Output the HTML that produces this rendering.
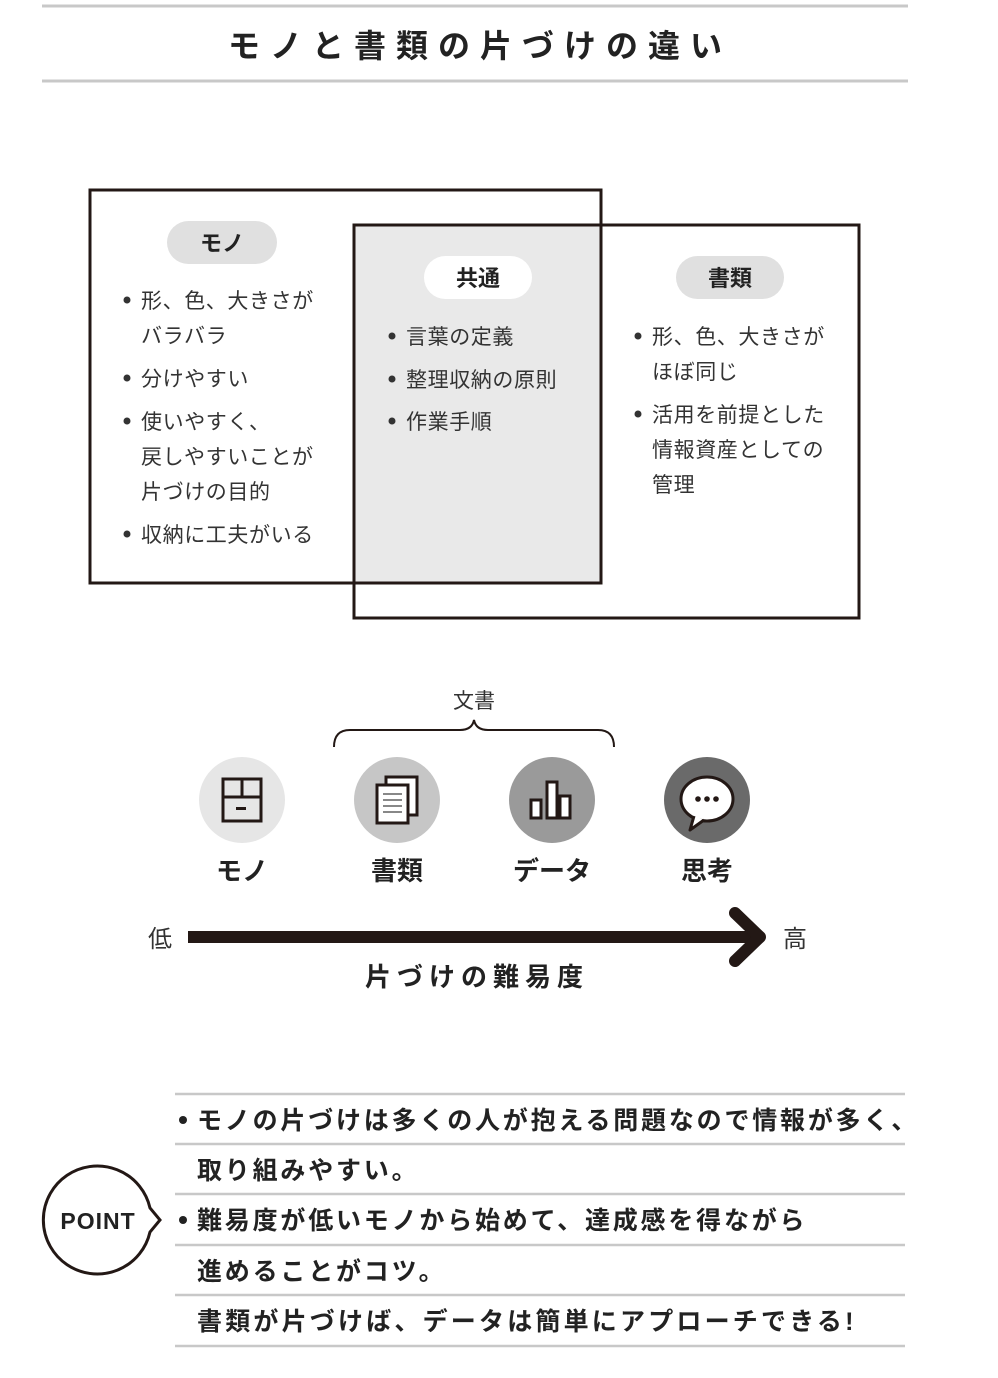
<!DOCTYPE html>
<html><head><meta charset="utf-8"><style>
html,body{margin:0;padding:0;background:#fff;}
svg{display:block;}
text{font-family:"Liberation Sans","Noto Sans CJK JP",sans-serif;}
.b{font-weight:bold;}
</style></head><body>
<svg width="998" height="1378" viewBox="0 0 998 1378" xmlns="http://www.w3.org/2000/svg">
<rect width="998" height="1378" fill="#fff"/>
<line x1="42" y1="6" x2="908" y2="6" stroke="#c8c8c8" stroke-width="3"/>
<line x1="42" y1="81" x2="908" y2="81" stroke="#c8c8c8" stroke-width="3"/>
<text x="480" y="57" font-size="32" class="b" text-anchor="middle" fill="#222" letter-spacing="10">モノと書類の片づけの違い</text>

<rect x="354" y="225" width="247" height="358" fill="#e9e9e9"/>
<rect x="90" y="190" width="511" height="393" fill="none" stroke="#231815" stroke-width="3"/>
<rect x="354" y="225" width="505" height="393" fill="none" stroke="#231815" stroke-width="3"/>

<rect x="167" y="221" width="110" height="43" rx="21.5" fill="#e0e0e0"/>
<text x="222" y="251" font-size="22" class="b" text-anchor="middle" fill="#222">モノ</text>
<rect x="424" y="256" width="108" height="43" rx="21.5" fill="#fff"/>
<text x="478" y="286" font-size="22" class="b" text-anchor="middle" fill="#222">共通</text>
<rect x="676" y="256" width="108" height="43" rx="21.5" fill="#e0e0e0"/>
<text x="730" y="286" font-size="22" class="b" text-anchor="middle" fill="#222">書類</text>

<g font-size="21" fill="#333" letter-spacing="0.6">
<text x="141" y="308">形、色、大きさが</text>
<text x="141" y="343">バラバラ</text>
<text x="141" y="386">分けやすい</text>
<text x="141" y="429">使いやすく、</text>
<text x="141" y="464">戻しやすいことが</text>
<text x="141" y="499">片づけの目的</text>
<text x="141" y="542">収納に工夫がいる</text>
<text x="406" y="344">言葉の定義</text>
<text x="406" y="387">整理収納の原則</text>
<text x="406" y="429">作業手順</text>
<text x="652" y="344">形、色、大きさが</text>
<text x="652" y="379">ほぼ同じ</text>
<text x="652" y="422">活用を前提とした</text>
<text x="652" y="457">情報資産としての</text>
<text x="652" y="492">管理</text>
</g>
<g fill="#333">
<circle cx="127" cy="300" r="3.5"/><circle cx="127" cy="378" r="3.5"/><circle cx="127" cy="421" r="3.5"/><circle cx="127" cy="534" r="3.5"/>
<circle cx="392" cy="336" r="3.5"/><circle cx="392" cy="379" r="3.5"/><circle cx="392" cy="421" r="3.5"/>
<circle cx="638" cy="336" r="3.5"/><circle cx="638" cy="414" r="3.5"/>
</g>

<text x="474" y="708" font-size="21" text-anchor="middle" fill="#333">文書</text>
<path d="M334 747 Q334 730 350 730 L460 730 Q472 730 474 720 Q476 730 488 730 L598 730 Q614 730 614 747" fill="none" stroke="#231815" stroke-width="2"/>

<circle cx="242" cy="800" r="43" fill="#e6e6e6"/>
<circle cx="397" cy="800" r="43" fill="#c6c6c6"/>
<circle cx="552" cy="800" r="43" fill="#9a9a9a"/>
<circle cx="707" cy="800" r="43" fill="#6a6a6a"/>
<g fill="none" stroke="#231815" stroke-width="3">
<rect x="223" y="779" width="38" height="42"/>
<line x1="223" y1="797" x2="261" y2="797"/><line x1="242" y1="779" x2="242" y2="797"/>
</g>
<rect x="236" y="807" width="10" height="3" fill="#231815"/>
<rect x="386" y="777" width="31" height="38" fill="#fff" stroke="#231815" stroke-width="3"/>
<rect x="377" y="785" width="31" height="38" fill="#fff" stroke="#231815" stroke-width="3"/>
<g stroke="#888" stroke-width="2"><line x1="383" y1="794" x2="402" y2="794"/><line x1="383" y1="800" x2="402" y2="800"/><line x1="383" y1="806" x2="402" y2="806"/><line x1="383" y1="812" x2="402" y2="812"/></g>
<g fill="#fff" stroke="#231815" stroke-width="3">
<rect x="531" y="800" width="10" height="18"/><rect x="547" y="782" width="10" height="36"/><rect x="560" y="796" width="10" height="22"/>
</g>
<ellipse cx="707" cy="799" rx="26" ry="22" fill="#fff" stroke="#231815" stroke-width="3"/>
<path d="M694 816 L690 830 L704 820" fill="#fff" stroke="#231815" stroke-width="3" stroke-linejoin="round"/>
<g fill="#231815"><circle cx="698" cy="799" r="2.8"/><circle cx="707" cy="799" r="2.8"/><circle cx="716" cy="799" r="2.8"/></g>

<g font-size="26" class="b" fill="#222" text-anchor="middle">
<text x="242" y="880">モノ</text><text x="397" y="880">書類</text><text x="552" y="880">データ</text><text x="707" y="880">思考</text>
</g>

<text x="160" y="947" font-size="24" text-anchor="middle" fill="#333">低</text>
<text x="795" y="947" font-size="24" text-anchor="middle" fill="#333">高</text>
<line x1="188" y1="937" x2="758" y2="937" stroke="#231815" stroke-width="12"/>
<polyline points="735,913 760,937 735,961" fill="none" stroke="#231815" stroke-width="12" stroke-linecap="round" stroke-linejoin="round"/>
<text x="477" y="986" font-size="26" class="b" text-anchor="middle" fill="#222" letter-spacing="6">片づけの難易度</text>

<g stroke="#c8c8c8" stroke-width="2.5">
<line x1="175" y1="1094" x2="905" y2="1094"/><line x1="175" y1="1144" x2="905" y2="1144"/>
<line x1="175" y1="1194" x2="905" y2="1194"/><line x1="175" y1="1245" x2="905" y2="1245"/>
<line x1="175" y1="1295" x2="905" y2="1295"/><line x1="175" y1="1346" x2="905" y2="1346"/>
</g>
<g font-size="25" class="b" fill="#222" letter-spacing="2.8">
<text x="197" y="1129">モノの片づけは多くの人が抱える問題なので情報が多く、</text>
<text x="197" y="1179">取り組みやすい。</text>
<text x="197" y="1229">難易度が低いモノから始めて、達成感を得ながら</text>
<text x="197" y="1280">進めることがコツ。</text>
<text x="197" y="1330" letter-spacing="3.2">書類が片づけば、データは簡単にアプローチできる!</text>
</g>
<circle cx="183" cy="1120" r="4" fill="#222"/>
<circle cx="183" cy="1220" r="4" fill="#222"/>

<path d="M150 1208 A54 54 0 1 0 150 1232 L160 1220 Z" fill="#fff" stroke="#231815" stroke-width="3"/>
<text x="98" y="1229" font-size="23" class="b" text-anchor="middle" fill="#222" letter-spacing="1">POINT</text>
</svg>
</body></html>
